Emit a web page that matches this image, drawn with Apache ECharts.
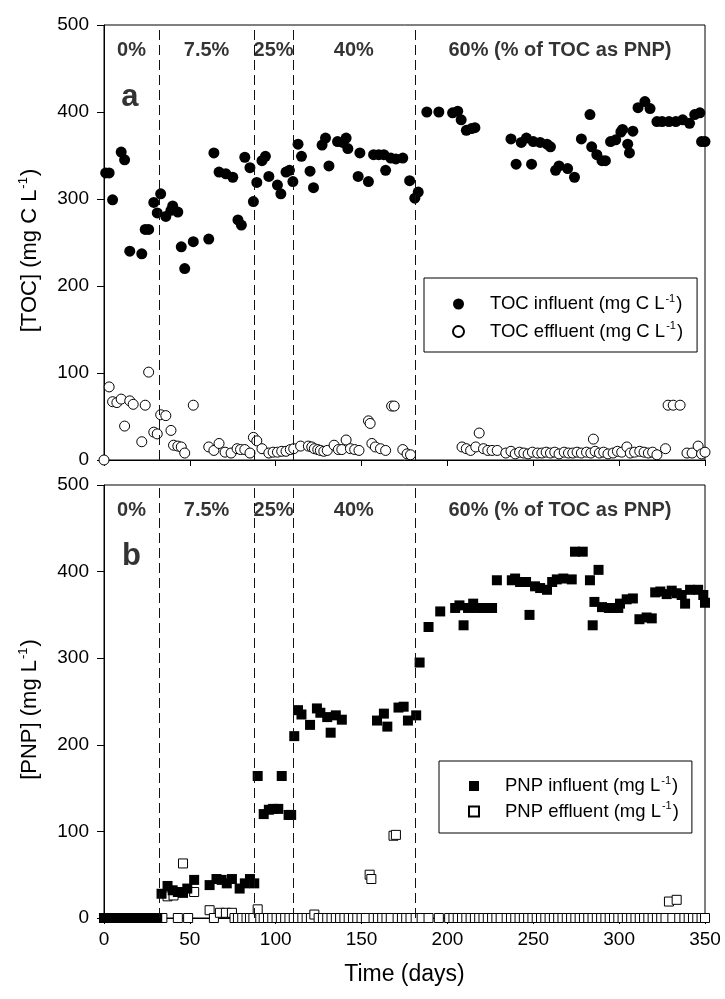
<!DOCTYPE html>
<html>
<head>
<meta charset="utf-8">
<script src="https://cdn.jsdelivr.net/npm/echarts/dist/echarts.min.js"></script>
<style>
  html, body { margin: 0; padding: 0; background: #fff; }
  #chart { width: 725px; height: 999px; }
</style>
</head>
<body>
<div id="chart"></div>
<script>
// Reactor operation: TOC and PNP in influent / effluent over time (days)

// Start day of each PNP loading phase (dashed separators)
const phaseStarts = [32, 87.5, 110, 181];
const phaseNames = ['0%', '7.5%', '25%', '40%', '60% (% of TOC as PNP)'];
const lastDay = 350;

// [day, mg C/L]
const tocInfluent = [
  [1,330],[3,330],[5,299],[10,354],[12,345],[15,240],[22,237],[24,265],[26,265],[29,296],
  [31,284],[33,306],[36,280],[39,287],[40,292],[43,285],[45,245],[47,220],[52,251],[61,254],
  [64,353],[67,331],[71,329],[75,325],[78,276],[80,270],[82,348],[85,336],[87,297],[89,319],
  [92,344],[94,349],[96,326],[101,316],[103,306],[106,331],[108,333],[110,320],[113,363],[115,349],
  [120,332],[122,313],[127,362],[129,370],[131,338],[136,366],[139,365],[141,370],[142,358],[148,326],
  [149,353],[154,320],[157,351],[160,351],[163,351],[164,333],[167,347],[170,346],[174,347],[178,321],
  [181,301],[183,308],[188,400],[195,400],[203,399],[206,401],[208,391],[211,379],[214,381],[216,382],
  [237,369],[240,340],[243,365],[246,370],[249,340],[250,366],[254,365],[258,363],[260,360],[263,333],
  [265,338],[270,335],[274,325],[278,369],[283,397],[284,360],[287,351],[290,344],[292,344],[295,366],
  [298,368],[301,377],[302,380],[305,363],[306,353],[308,378],[311,405],[315,412],[318,404],[322,389],
  [325,389],[329,389],[333,389],[337,391],[341,387],[344,397],[347,399],[348,366],[350,366]
];

// [day, mg C/L]
const tocEffluent = [
  [0,0],[3,84],[5,67],[7.5,66],[10,70],[12,39],[15,68],[17,64],[22,21],[24,63],
  [26,101],[29,32],[31,30],[33,52],[36,51],[39,34],[40.5,17],[43,16],[45,15],[47,8],
  [52,63],[61,15],[64,11],[67,19],[70.5,9],[74,8],[77.5,13],[79.5,12],[82,12],[85,8],
  [87,26],[89,22],[92,13],[96,8],[98.5,9],[101,9],[103.5,10],[106,10],[108.5,12],[110.5,13],
  [114.5,16],[119,16],[121,15],[122.5,13],[124.5,12],[126,11],[128,10],[130,11],[134,17],[136.5,12],
  [138.5,12],[141,23],[143.5,13],[146,12],[148.5,11],[154,45],[155,42],[156,19],[158,15],[161,13],
  [164,11],[167.5,62],[169,62],[174,12],[176.5,7],[178.5,6],[208.5,15],[211,13],[213.5,11],[216.5,15],
  [218.5,31],[221,13],[223.5,11],[226,11],[229,11],[234,8],[237,10],[239.5,7],[242,9],[244.5,8],
  [247,7],[249.5,9],[252.5,8],[255,8],[257.5,9],[260,8],[262.5,9],[265,7],[268,9],[270.5,8],
  [273,8],[275.5,9],[278,8],[281,9],[283.5,8],[285,24],[286,10],[288.5,8],[291,9],[293.5,7],
  [296.5,8],[299,10],[301.5,9],[304.5,15],[306.5,8],[309,9],[312,10],[314.5,9],[317,8],[319.5,9],
  [322,6],[327,13],[328.5,63],[331.5,63],[335.5,63],[339.5,8],[342.5,8],[346,16],[348,7],[350,9]
];

// [day, mg/L]
const pnpInfluent = [
  [0,0],[1,0],[2,0],[3,0],[4,0],[5,0],[6,0],[7,0],[8,0],[9,0],[10,0],[11,0],[12,0],[13,0],
  [14,0],[15,0],[16,0],[17,0],[18,0],[19,0],[20,0],[21,0],[22,0],[23,0],[24,0],[25,0],[26,0],
  [27,0],[28,0],[29,0],[30,0],[31,0],
  [33.5,28],[37,37],[40,32],[43,30],[46,29],[48.5,34],[52.5,44],[61.5,38],[65.5,45],[68.5,44],
  [71.5,40],[74.5,45],[79,34],[82,40],[85,45],[87.5,40],[89.5,164],[93,120],[96,125],[98.5,126],
  [101.5,126],[103.5,164],[107.5,119],[109,119],[110.8,210],[113,240],[115,235],[120,223],[124,242],[126,237],
  [130,232],[132,214],[135,234],[138.5,229],[159,228],[163,236],[165,221],[171.5,243],[174.5,244],[177,228],
  [181.8,234],[183.8,295],[189,336],[195.8,354],[204.5,358],[207,361],[209.4,338],[212,358],[215,363],[217.5,358],
  [220.6,358],[223.3,358],[226,358],[228.8,390],[237.5,390],[239.4,392],[242.3,388],[245.8,388],[247.8,350],[251,383],
  [254,381],[258,379],[261,388],[263.7,391],[267.5,392],[272.4,391],[274.3,423],[278.8,423],[283,390],[284.6,338],
  [285.6,365],[288,402],[290,359],[294,358],[296.6,358],[299.5,358],[300.5,363],[304.4,368],[308,369],[311.8,345],
  [316,347],[319,346],[321,376],[324,377],[327.7,374],[330.6,378],[333.5,375],[336.4,373],[338.4,363],[341.3,379],
  [346,379],[349,373],[350,364]
];

// [day, mg/L]
const pnpEffluent = [
  [34,0],[37,25],[40.5,26],[43,0],[46,63],[49,0],[52.5,30],[61.5,9],[64,0],[67.5,6],
  [71,6],[74.5,6],[76,0],[78,0],[80.5,0],[83,0],[85,0],[87,0],[89.5,10],[91,0],
  [93,0],[95.5,0],[98,0],[100.5,0],[103,0],[105.5,0],[108,0],[110.5,0],[113,0],[115.5,0],
  [118,0],[120.5,0],[122.5,4],[125,0],[127.5,0],[130,0],[132.5,0],[135,0],[137.5,0],[140,0],
  [142.5,0],[145,0],[147.5,0],[150,0],[152.5,0],[154.7,50],[155.7,45],[157,0],[159.5,0],[162,0],
  [164.5,0],[167,0],[168.6,95],[170,96],[171,0],[173.5,0],[176,0],[178.5,0],[181.5,0],[185,0],
  [189,0],[195,0],[201,0],[203.5,0],[206,0],[208.5,0],[211,0],[213.5,0],[216,0],[218.5,0],
  [221,0],[223.5,0],[226,0],[228.5,0],[231,0],[234.5,0],[237,0],[239.5,0],[242,0],[244.5,0],
  [247,0],[249.5,0],[252,0],[254.5,0],[257,0],[259.5,0],[262,0],[264.5,0],[267,0],[269.5,0],
  [272,0],[274.5,0],[277,0],[279.5,0],[282,0],[284.5,0],[287,0],[289.5,0],[292,0],[294.5,0],
  [297,0],[299.5,0],[302,0],[304.5,0],[307,0],[309.5,0],[312,0],[314.5,0],[317,0],[319.5,0],
  [322,0],[324.5,0],[327,0],[329,19],[331,0],[333.5,21],[335,0],[338,0],[340.5,0],[343,0],
  [345.5,0],[348,0],[350,0]
];

const FONT = 'Liberation Sans, Arial, Helvetica, sans-serif';
const INK = '#000';

// centre of every phase span, for the phase captions
const bounds = [0].concat(phaseStarts, [lastDay]);
const phaseMid = phaseNames.map((n, i) => (bounds[i] + bounds[i + 1]) / 2);

function captions(panelLetter, letterDay, letterLevel) {
  const data = phaseNames.map((n, i) => ({ name: n, value: [phaseMid[i], 471] }));
  data.push({
    name: panelLetter, value: [letterDay, letterLevel],
    label: { fontSize: 31, fontWeight: 'bold' }
  });
  return data;
}

const legendRich = {
  g: { width: 21, fontSize: 10 },
  n: { fontFamily: FONT, fontSize: 18.5, color: INK, lineHeight: 22 },
  s: { fontFamily: FONT, fontSize: 11, color: INK, verticalAlign: 'top', lineHeight: 22, padding: [0, 1, 0, 1] }
};
const titleRich = {
  n: { fontFamily: FONT, fontSize: 22, color: INK, lineHeight: 25 },
  s: { fontFamily: FONT, fontSize: 13, color: INK, verticalAlign: 'top', lineHeight: 25, padding: [0, 1, 0, 1] }
};

const legendText = {
  'TOC influent': '{g| }{n|TOC influent (mg C L}{s|-1}{n|)}',
  'TOC effluent': '{g| }{n|TOC effluent (mg C L}{s|-1}{n|)}',
  'PNP influent': '{g| }{n|PNP influent (mg L}{s|-1}{n|)}',
  'PNP effluent': '{g| }{n|PNP effluent (mg L}{s|-1}{n|)}'
};

function xAxisFor(gridIndex, withLabels) {
  return {
    type: 'value', gridIndex, min: 0, max: lastDay, interval: 50,
    axisLine: { show: true, onZero: false, lineStyle: { color: INK, width: 1 } },
    axisTick: { show: true, inside: false, length: 6, lineStyle: { color: INK } },
    axisLabel: { show: withLabels, color: INK, fontFamily: FONT, fontSize: 19, margin: 12 },
    splitLine: { show: false },
    name: withLabels ? 'Time (days)' : '',
    nameLocation: 'middle', nameGap: 45,
    nameTextStyle: { color: INK, fontFamily: FONT, fontSize: 23 }
  };
}

function yAxisFor(gridIndex, title) {
  return {
    type: 'value', gridIndex, min: 0, max: 500, interval: 100,
    axisLine: { show: true, onZero: false, lineStyle: { color: INK, width: 1 } },
    axisTick: { show: true, inside: false, length: 7, lineStyle: { color: INK } },
    axisLabel: { color: INK, fontFamily: FONT, fontSize: 19, margin: 15 },
    splitLine: { show: false },
    name: title, nameLocation: 'middle', nameRotate: 90, nameGap: 62,
    nameTextStyle: { rich: titleRich, padding: [0, 16, 0, 0] }
  };
}

const phaseLines = {
  silent: true, symbol: ['none', 'none'], animation: false,
  label: { show: false },
  lineStyle: { color: '#111', width: 1, type: [10, 5] },
  data: phaseStarts.map(d => ({ xAxis: d }))
};

const captionLabel = {
  show: true, position: 'inside', formatter: p => p.name,
  color: INK, fontFamily: FONT, fontSize: 20, fontWeight: 'bold'
};

const option = {
  animation: false,
  backgroundColor: '#fff',
  grid: [
    { left: 104, right: 20, top: 25, height: 435, show: true, borderColor: INK, borderWidth: 1,
      backgroundColor: 'transparent', containLabel: false, outerBoundsMode: 'none' },
    { left: 104, right: 20, top: 485, height: 433, show: true, borderColor: INK, borderWidth: 1,
      backgroundColor: 'transparent', containLabel: false, outerBoundsMode: 'none' }
  ],
  xAxis: [xAxisFor(0, false), xAxisFor(1, true)],
  yAxis: [
    yAxisFor(0, '{n|[TOC] (mg C L}{s|-1}{n|)}'),
    yAxisFor(1, '{n|[PNP] (mg L}{s|-1}{n|)}')
  ],
  legend: [
    {
      data: ['TOC influent', 'TOC effluent'], orient: 'vertical',
      left: 424, top: 278, itemWidth: 11, itemHeight: 11, itemGap: 7,
      padding: [15, 14, 11, 28], borderColor: INK, borderWidth: 1, backgroundColor: '#fff',
      formatter: n => legendText[n], textStyle: { rich: legendRich }, selectedMode: false
    },
    {
      data: ['PNP influent', 'PNP effluent'], orient: 'vertical',
      left: 439, top: 761, itemWidth: 10, itemHeight: 10, itemGap: 5,
      padding: [14, 13, 12, 29], borderColor: INK, borderWidth: 1, backgroundColor: '#fff',
      formatter: n => legendText[n], textStyle: { rich: legendRich }, selectedMode: false
    }
  ],
  series: [
    {
      name: 'TOC effluent', type: 'scatter', xAxisIndex: 0, yAxisIndex: 0, clip: false,
      symbol: 'circle', symbolSize: 10, z: 3,
      itemStyle: { color: '#fff', borderColor: INK, borderWidth: 1, opacity: 1 },
      data: tocEffluent
    },
    {
      name: 'TOC influent', type: 'scatter', xAxisIndex: 0, yAxisIndex: 0, clip: false,
      symbol: 'circle', symbolSize: 11, z: 4,
      itemStyle: { color: INK, borderColor: INK, borderWidth: 0, opacity: 1 },
      data: tocInfluent, markLine: phaseLines
    },
    {
      name: 'PNP effluent', type: 'scatter', xAxisIndex: 1, yAxisIndex: 1, clip: false,
      symbol: 'rect', symbolSize: 9, z: 3,
      itemStyle: { color: '#fff', borderColor: INK, borderWidth: 1, opacity: 1 },
      data: pnpEffluent
    },
    {
      name: 'PNP influent', type: 'scatter', xAxisIndex: 1, yAxisIndex: 1, clip: false,
      symbol: 'rect', symbolSize: 10, z: 4,
      itemStyle: { color: INK, borderColor: INK, borderWidth: 0, opacity: 1 },
      data: pnpInfluent, markLine: phaseLines
    },
    {
      name: 'phase captions a', type: 'scatter', xAxisIndex: 0, yAxisIndex: 0, silent: true,
      symbolSize: 0, z: 5, label: captionLabel, data: captions('a', 15, 417)
    },
    {
      name: 'phase captions b', type: 'scatter', xAxisIndex: 1, yAxisIndex: 1, silent: true,
      symbolSize: 0, z: 5, label: captionLabel, data: captions('b', 16, 418)
    }
  ]
};

const chart = echarts.init(document.getElementById('chart'), null, { renderer: 'canvas' });
chart.setOption(option);
</script>
</body>
</html>
